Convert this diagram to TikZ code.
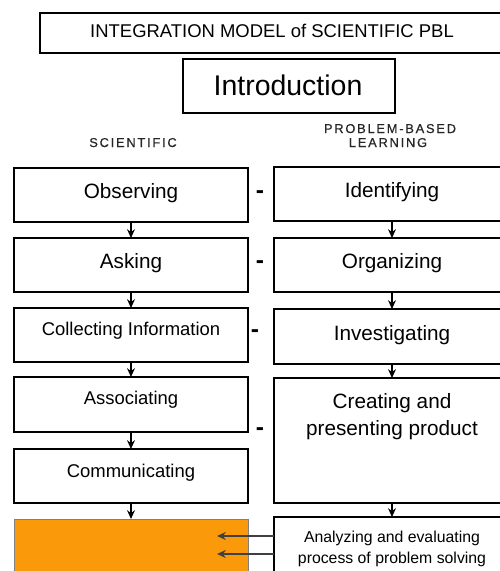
\documentclass[tikz,border=0pt]{standalone}
\usepackage{fontspec}
\setmainfont{Liberation Sans}
\newfontfamily\widefont[LetterSpace=14,FakeBold=0.6]{Liberation Sans}
\usetikzlibrary{positioning,calc,arrows.meta}
\definecolor{pblorange}{RGB}{250,153,10}

\tikzset{
  box/.style={draw, line width=0.8pt, anchor=north west, inner sep=0pt, outer sep=0pt},
  scibox/.style={box, minimum width=4.68cm, minimum height=1.08cm},
  pblbox/.style={box, minimum width=4.72cm, minimum height=1.08cm},
  lbl/.style={anchor=base, inner sep=0pt, font=\fontsize{11.8}{14}\selectfont},
  small/.style={anchor=base, inner sep=0pt, font=\fontsize{10.5}{12}\selectfont},
  head/.style={anchor=base, inner sep=0pt, text=black!85, font=\widefont\fontsize{7.3}{8}\selectfont},
  link/.style={inner sep=0pt, font=\bfseries\fontsize{14}{16}\selectfont},
  flow/.style={-{Stealth[length=5pt,width=4.5pt]}, line width=0.7pt}
}

\begin{document}
\begin{tikzpicture}[x=0.02cm, y=-0.02cm]
\useasboundingbox (0,0) rectangle (500,571);

% title and introduction
\node[box, minimum width=9.3cm, minimum height=0.8cm] (title) at (40,13) {};
\node[small, font=\fontsize{10.5}{12}\selectfont] (titleT) at (272,38) {INTEGRATION MODEL of SCIENTIFIC PBL};
\node[box, minimum width=4.24cm, minimum height=1.08cm] (intro) at (183,59) {};
\node[lbl, font=\fontsize{16.2}{18}\selectfont] (introT) at (288,95) {Introduction};

% column heads
\node[head] (sciH) at (133,147) {SCIENTIFIC};
\node[head] (pblH1) at (390,133) {PROBLEM-BASED};
\node[head] (pblH2) at (388,147) {LEARNING};

% scientific steps
\node[scibox] (obs) at (14,168) {};
\node[scibox] (ask) at (14,238) {};
\node[scibox] (col) at (14,308) {};
\node[scibox, minimum height=1.1cm] (asc) at (14,377) {};
\node[scibox] (com) at (14,449) {};
\node[scibox, fill=pblorange, draw=black!50, line width=0.5pt, minimum height=1.4cm] (res) at (14,519) {};
\node[lbl] at (131,198) {Observing};
\node[lbl] at (131,268) {Asking};
\node[small] at (131,335) {Collecting Information};
\node[small] at (131,404) {Associating};
\node[small] at (131,477) {Communicating};

% problem-based steps
\node[pblbox] (idf) at (274,167) {};
\node[pblbox] (org) at (274,238) {};
\node[pblbox, minimum height=1.1cm] (inv) at (274,309) {};
\node[pblbox, minimum height=2.5cm] (cre) at (274,378) {};
\node[pblbox, minimum height=1.4cm] (ana) at (274,517) {};
\node[lbl] at (392,197) {Identifying};
\node[lbl] at (392,268) {Organizing};
\node[lbl] at (392,340) {Investigating};
\node[lbl, anchor=north, align=center, font=\fontsize{11.8}{15.3}\selectfont] at (392,393) {Creating and\\presenting product};
\node[lbl, anchor=north, align=center, font=\fontsize{9}{11.9}\selectfont] at (392,530.5) {Analyzing and evaluating\\process of problem solving};

% pairs
\node[link] at (260,195) {-};
\node[link] at (260,265) {-};
\node[link] at (255,334) {-};
\node[link] at (260,432) {-};

% flow
\draw[flow] (obs) -- (ask);
\draw[flow] (ask) -- (col);
\draw[flow] (col) -- (asc);
\draw[flow] (asc) -- (com);
\draw[flow] (com) -- (com |- res.north);
\draw[flow] (idf) -- (org);
\draw[flow] (org) -- (inv);
\draw[flow] (inv) -- (cre);
\draw[flow] (cre) -- (ana);

\coordinate (back1) at (217,536);
\coordinate (back2) at (217,554);
\draw[flow, black!75] (ana.west |- back1) -- (back1);
\draw[flow, black!75] (ana.west |- back2) -- (back2);
\end{tikzpicture}
\end{document}
